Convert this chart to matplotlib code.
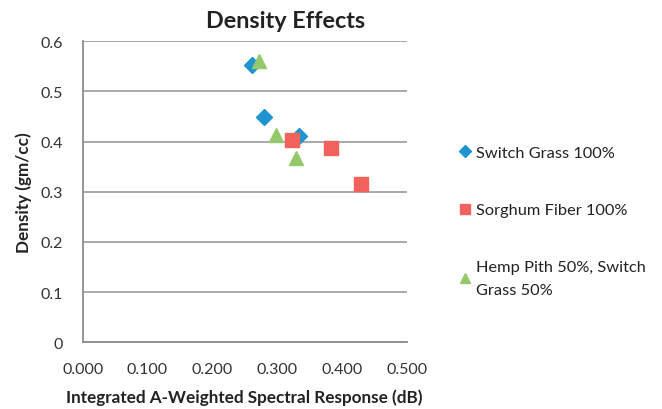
import matplotlib
matplotlib.use('Agg')
import matplotlib.pyplot as plt

#данные серий (x - интегральный отклик, y - плотность)
switch_x = [0.261, 0.280, 0.334]
switch_y = [0.553, 0.450, 0.411]
sorghum_x = [0.3225, 0.383, 0.429]
sorghum_y = [0.403, 0.387, 0.316]
hemp_x = [0.272, 0.299, 0.329]
hemp_y = [0.561, 0.414, 0.368]

labels = ['Switch Grass 100%', 'Sorghum Fiber 100%', 'Hemp Pith 50%, Switch\nGrass 50%']
x_ticks = [0.0, 0.1, 0.2, 0.3, 0.4, 0.5]
y_ticks = [0, 0.1, 0.2, 0.3, 0.4, 0.5, 0.6]

plt.rcParams['font.family'] = ['Lato', 'DejaVu Sans']

W, H = 662, 410
fig = plt.figure(figsize=(W / 100, H / 100), dpi=100)
ax = fig.add_axes([82.7 / W, 1 - 343.3 / H, 324 / W, 301 / H])

blue = '#1E95CF'
red = '#F0625B'
green = '#93C96B'

h1, = ax.plot(switch_x, switch_y, 'D', color=blue, markersize=8, linestyle='none')
h2, = ax.plot(sorghum_x, sorghum_y, 's', color=red, markersize=10, linestyle='none')
h3, = ax.plot(hemp_x, hemp_y, '^', color=green, markersize=10, linestyle='none')

ax.set_xlim(0, 0.5)
ax.set_ylim(0, 0.6)
ax.set_xticks(x_ticks)
ax.set_xticklabels(['%.3f' % v for v in x_ticks])
ax.set_yticks(y_ticks)
ax.set_yticklabels([('%.1f' % v) if v else '0' for v in y_ticks])
ax.tick_params(length=0, labelsize=11.5, colors='#333333')
ax.tick_params(axis='y', pad=14)
ax.tick_params(axis='x', pad=14)
ax.yaxis.grid(True, color='#A3A3A3', linewidth=1.3)
ax.set_axisbelow(True)
for s in ['top', 'right']:
    ax.spines[s].set_visible(False)
for s in ['left', 'bottom']:
    ax.spines[s].set_color('#8C8C8C')
    ax.spines[s].set_linewidth(1.3)

ax.set_xlabel('Integrated A-Weighted Spectral Response (dB)', fontsize=12.3, fontweight='bold', color='#222222', labelpad=9)
ax.set_ylabel('Density (gm/cc)', fontsize=12.3, fontweight='bold', color='#222222', labelpad=6)
fig.text(286 / W, 1 - 22 / H, 'Density Effects', fontsize=16.8, fontweight='bold', ha='center', va='center', color='#222222')

leg = fig.legend([h1, h2, h3], labels, loc='upper left', bbox_to_anchor=(445 / W, 1 - 132 / H),
                 frameon=False, fontsize=11.8, markerscale=0.75, handlelength=0.6, handletextpad=0.4,
                 labelspacing=2.6)
for t in leg.get_texts():
    t.set_color('#222222')
    t.set_linespacing(1.85)

fig.savefig('out.png', dpi=100)
